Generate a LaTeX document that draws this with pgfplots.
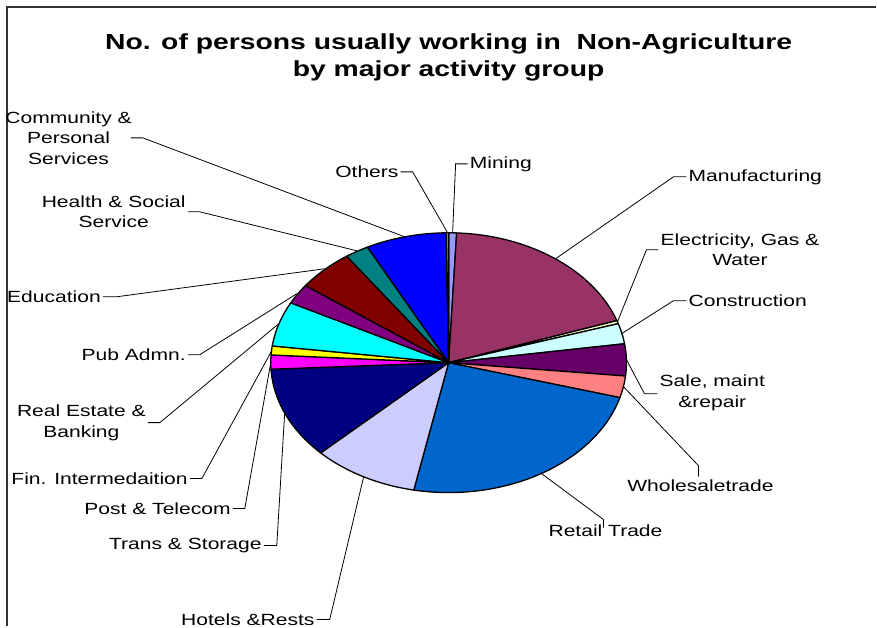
\documentclass[border=0pt]{standalone}
\usepackage{pgfplots}
\pgfplotsset{compat=1.18}
\usepackage{pgfplotstable}
\usepackage{fontspec}
\setmainfont[FakeStretch=1.3]{Liberation Sans}

% Excel default palette
\definecolor{cMin}{HTML}{9999FF}
\definecolor{cMan}{HTML}{993366}
\definecolor{cEle}{HTML}{FFFFCC}
\definecolor{cCon}{HTML}{CCFFFF}
\definecolor{cSal}{HTML}{660066}
\definecolor{cWho}{HTML}{FF8080}
\definecolor{cRet}{HTML}{0066CC}
\definecolor{cHot}{HTML}{CCCCFF}
\definecolor{cTra}{HTML}{000080}
\definecolor{cPos}{HTML}{FF00FF}
\definecolor{cFin}{HTML}{FFFF00}
\definecolor{cRea}{HTML}{00FFFF}
\definecolor{cPub}{HTML}{800080}
\definecolor{cEdu}{HTML}{800000}
\definecolor{cHea}{HTML}{008080}
\definecolor{cCom}{HTML}{0000FF}
\definecolor{cOth}{HTML}{00CCFF}

% shares in percent, clockwise from 12 o'clock
\pgfplotstableread{
value colour
0.72  cMin
19.03 cMan
0.39  cEle
2.53  cCon
3.97  cSal
2.69  cWho
23.81 cRet
9.64  cHot
11.42 cTra
1.75  cPos
1.11  cFin
5.56  cRea
2.50  cPub
5.17  cEdu
2.17  cHea
7.31  cCom
0.23  cOth
}\piedata

\newcommand\lbl{\fontsize{16.2bp}{20.5bp}\selectfont}

\begin{document}
\begin{tikzpicture}
\begin{axis}[
  width=877bp, height=627bp, scale only axis,
  xmin=0, xmax=877, ymin=0, ymax=627, y dir=reverse,
  axis lines=none, ticks=none, clip=false,
]
  \path (axis cs:0,0) rectangle (axis cs:877,627);
  % chart frame (top and left edges visible)
  \draw[line width=1.5bp, black!80] (axis cs:7,627) -- (axis cs:7,7) -- (axis cs:877,7);

  % title
  \node[font=\bfseries\fontsize{21.8bp}{27bp}\selectfont, align=center]
    at (axis cs:449,57) {No. of persons usually working in\ \ Non-Agriculture\\by major activity group};

  % pie slices
  \pgfplotstablegetrowsof{\piedata}
  \pgfmathtruncatemacro\nrows{\pgfplotsretval-1}
  \xdef\cum{0}
  \pgfplotsforeachungrouped \i in {0,...,\nrows}{
    \pgfplotstablegetelem{\i}{value}\of\piedata \let\v\pgfplotsretval
    \pgfplotstablegetelem{\i}{colour}\of\piedata \let\c\pgfplotsretval
    \pgfmathsetmacro\a{90-3.6*\cum}
    \pgfmathsetmacro\cumnew{\cum+\v}
    \xdef\cum{\cumnew}
    \pgfmathsetmacro\b{90-3.6*\cum}
    \edef\doslice{\noexpand\addplot[fill=\c, draw=black, line width=1.3bp, line join=round,
      domain=\b:\a, samples=60, variable=\noexpand\t]
      ({449+178*cos(\noexpand\t)},{363-130*sin(\noexpand\t)}) -- (axis cs:449,363) -- cycle;}
    \doslice
  }

  % leader lines
  \begin{scope}[line width=0.8bp]
  \draw (axis cs:453,233) -- (axis cs:456,164) -- (axis cs:468,164);
  \draw (axis cs:448,233) -- (axis cs:413,172) -- (axis cs:401,172);
  \draw (axis cs:556,259) -- (axis cs:674,177) -- (axis cs:687,177);
  \draw (axis cs:618,322) -- (axis cs:647,250) -- (axis cs:659,250);
  \draw (axis cs:622,334) -- (axis cs:674,301) -- (axis cs:687,301);
  \draw (axis cs:627,360) -- (axis cs:645,394) -- (axis cs:658,394);
  \draw (axis cs:624,387) -- (axis cs:699,466) -- (axis cs:699,477);
  \draw (axis cs:542,474) -- (axis cs:604,520) -- (axis cs:604,528);
  \draw (axis cs:364,477) -- (axis cs:330,620) -- (axis cs:317,620);
  \draw (axis cs:285,412) -- (axis cs:277,546) -- (axis cs:264,546);
  \draw (axis cs:271,363) -- (axis cs:245,509) -- (axis cs:233,509);
  \draw (axis cs:272,351) -- (axis cs:202,479) -- (axis cs:190,479);
  \draw (axis cs:279,324) -- (axis cs:160,423) -- (axis cs:148,423);
  \draw (axis cs:297,294) -- (axis cs:200,355) -- (axis cs:188,355);
  \draw (axis cs:325,269) -- (axis cs:117,297) -- (axis cs:103,297);
  \draw (axis cs:357,251) -- (axis cs:200,212) -- (axis cs:188,212);
  \draw (axis cs:405,237) -- (axis cs:143,138) -- (axis cs:131,138);
  \end{scope}

  % labels
  \begin{scope}[inner sep=1bp]
  \node[anchor=west, font=\lbl] at (axis cs:469,164) {Mining};
  \node[anchor=east, font=\lbl] at (axis cs:400,172) {Others};
  \node[anchor=west, font=\lbl] at (axis cs:688,177) {Manufacturing};
  \node[anchor=west, font=\lbl, align=center] at (axis cs:660,250) {Electricity, Gas \&\\Water};
  \node[anchor=west, font=\lbl] at (axis cs:688,301) {Construction};
  \node[anchor=west, font=\lbl, align=center] at (axis cs:659,393) {Sale, maint\\\&repair};
  \node[anchor=north, font=\lbl] at (axis cs:701,479) {Wholesaletrade};
  \node[anchor=north, font=\lbl] at (axis cs:606,524) {Retail Trade};
  \node[anchor=east, font=\lbl] at (axis cs:316,620) {Hotels \&Rests};
  \node[anchor=east, font=\lbl] at (axis cs:263,546) {Trans \& Storage};
  \node[anchor=east, font=\lbl] at (axis cs:232,509) {Post \& Telecom};
  \node[anchor=east, font=\lbl] at (axis cs:189,479) {Fin. Intermedaition};
  \node[anchor=east, font=\lbl, align=center] at (axis cs:147,423) {Real Estate \&\\Banking};
  \node[anchor=east, font=\lbl] at (axis cs:187,355) {Pub Admn.};
  \node[anchor=east, font=\lbl] at (axis cs:102,297) {Education};
  \node[anchor=east, font=\lbl, align=center] at (axis cs:187,212) {Health \& Social\\Service};
  \node[anchor=east, font=\lbl, align=center] at (axis cs:133,138) {Community \&\\Personal\\Services};
  \end{scope}
\end{axis}
\end{tikzpicture}
\end{document}
